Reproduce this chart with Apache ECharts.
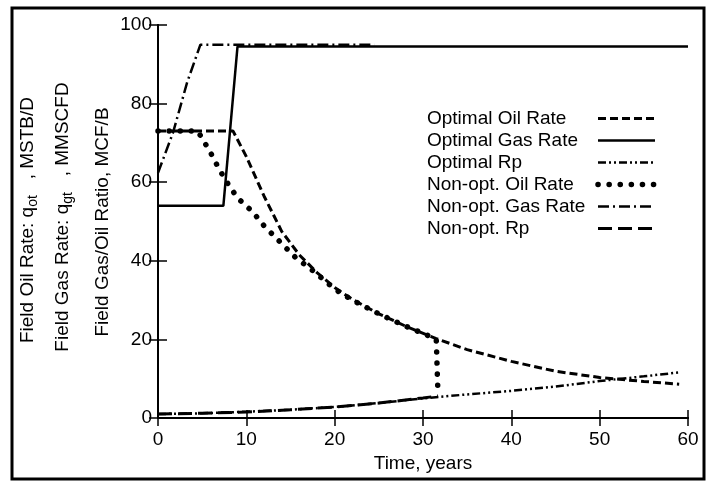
<!DOCTYPE html>
<html>
<head>
<meta charset="utf-8">
<script src="https://cdn.jsdelivr.net/npm/echarts@6/dist/echarts.min.js"></script>
<style>
  html, body { margin: 0; padding: 0; background: #fff; }
  #chart { width: 715px; height: 483px; }
</style>
</head>
<body>
<div id="chart"></div>
<script>
var FONT = '"Liberation Sans", Arial, sans-serif';

// Optimal oil rate (MSTB/D)
var optOilT = [0, 8.5, 10, 12, 14, 16, 18, 20, 22, 25, 28, 31.5, 35, 40, 45, 50, 55, 59];
var optOilV = [73, 73, 66.5, 56.5, 47.5, 41.5, 37, 33.2, 30.2, 26.5, 23.4, 20.2, 17.4, 14.4, 11.9, 10.3, 9.3, 8.6];

// Optimal gas rate (MMSCFD)
var optGasT = [0, 7.4, 9.0, 60];
var optGasV = [54, 54, 94.5, 94.5];

// Optimal Rp (MCF/B)
var optRpT = [0, 5, 10, 15, 20, 25, 30, 32, 35, 40, 45, 50, 55, 59];
var optRpV = [1.0, 1.2, 1.6, 2.1, 2.8, 3.8, 5.0, 5.4, 6.0, 6.9, 8.0, 9.4, 10.6, 11.6];

// Non-optimal oil rate
var nonOilT = [0, 4.5, 5.3, 6, 7, 8, 9, 10.7, 12, 13.6, 15.5, 17.8, 20, 22, 25, 28, 31.5, 31.7];
var nonOilV = [73, 73, 70, 67.3, 63, 59.3, 56, 52.5, 48.9, 45.3, 41, 37, 32.8, 30.0, 26.5, 23.4, 20.1, 5.6];

// Non-optimal gas rate
var nonGasT = [0, 1.7, 3.3, 4.8, 24.5];
var nonGasV = [62.4, 72.6, 85.4, 95, 95];

// Non-optimal Rp
var nonRpT = [0, 5, 10, 15, 20, 25, 30, 31.7];
var nonRpV = [1.0, 1.2, 1.5, 2.1, 2.8, 3.8, 5.1, 5.6];

var legendNames = ['Optimal Oil Rate', 'Optimal Gas Rate', 'Optimal Rp',
  'Non-opt. Oil Rate', 'Non-opt. Gas Rate', 'Non-opt. Rp'];

// line looks, one per series (same order as legendNames)
var looks = [
  { type: [8, 4], width: 3, cap: 'butt' },
  { type: 'solid', width: 2.5, cap: 'butt' },
  { type: [8, 3, 2, 3, 2, 3], width: 2.5, cap: 'butt' },
  { type: [0.1, 11], width: 5.5, cap: 'round' },
  { type: [11, 4, 2, 4], width: 2.5, cap: 'butt' },
  { type: [14, 6], width: 3, cap: 'butt' }
];

function pairs(t, v) {
  var out = [];
  for (var i = 0; i < t.length; i++) { out.push([t[i], v[i]]); }
  return out;
}

function lineStyleOf(i) {
  return { color: '#000', width: looks[i].width, type: looks[i].type, cap: looks[i].cap };
}

function mkSeries(i, t, v) {
  return {
    name: legendNames[i],
    type: 'line',
    data: pairs(t, v),
    symbol: 'none',
    showSymbol: false,
    silent: true,
    color: '#000',
    itemStyle: { color: '#000' },
    lineStyle: lineStyleOf(i)
  };
}

var chart = echarts.init(document.getElementById('chart'));

var labelRich = {
  a: { fontFamily: FONT, fontSize: 19, lineHeight: 24, fill: '#000', verticalAlign: 'middle' },
  s: { fontFamily: FONT, fontSize: 14, lineHeight: 12, fill: '#000', verticalAlign: 'bottom' }
};

function yLabel(x, y, text) {
  return {
    type: 'text',
    x: x, y: y,
    rotation: Math.PI / 2,
    style: {
      text: text,
      rich: labelRich,
      align: 'center',
      verticalAlign: 'middle',
      fill: '#000'
    }
  };
}

chart.setOption({
  animation: false,
  backgroundColor: '#fff',
  textStyle: { fontFamily: FONT, color: '#000' },
  grid: { left: 158, right: 27, top: 25, bottom: 65 },
  legend: {
    orient: 'vertical',
    left: 422,
    top: 104,
    align: 'right',
    itemWidth: 57,
    itemHeight: 16,
    itemGap: 3,
    selectedMode: false,
    itemStyle: { opacity: 0 },
    formatter: function (name) { return '{t|' + name + '}'; },
    textStyle: {
      fontFamily: FONT, fontSize: 19, color: '#000',
      rich: { t: { fontFamily: FONT, fontSize: 19, lineHeight: 19, color: '#000', width: 166, align: 'left' } }
    },
    data: legendNames.map(function (n, i) {
      return { name: n, lineStyle: lineStyleOf(i) };
    })
  },
  xAxis: [{
    type: 'value', min: 0, max: 60, interval: 10,
    name: 'Time, years', nameLocation: 'middle', nameGap: 24,
    nameTextStyle: { fontFamily: FONT, fontSize: 19, color: '#000' },
    axisLine: { lineStyle: { color: '#000', width: 2 } },
    axisTick: { inside: true, length: 8, lineStyle: { color: '#000', width: 1.5 } },
    axisLabel: { fontFamily: FONT, fontSize: 19, color: '#000', margin: 12 },
    splitLine: { show: false }
  }, {
    type: 'value', min: 0, max: 60, interval: 10, position: 'top',
    axisLine: { lineStyle: { color: '#000', width: 2 } },
    axisTick: { inside: true, length: 8, lineStyle: { color: '#000', width: 1.5 } },
    axisLabel: { show: false },
    splitLine: { show: false }
  }],
  yAxis: [{
    type: 'value', min: 0, max: 100, interval: 20,
    axisLine: { show: true, lineStyle: { color: '#000', width: 2 } },
    axisTick: { show: true, inside: true, length: 9, lineStyle: { color: '#000', width: 1.5 } },
    axisLabel: { fontFamily: FONT, fontSize: 19, color: '#000', margin: 6 },
    splitLine: { show: false }
  }, {
    type: 'value', min: 0, max: 100, interval: 20, position: 'right',
    axisLine: { show: true, lineStyle: { color: '#000', width: 2 } },
    axisTick: { show: true, inside: true, length: 9, lineStyle: { color: '#000', width: 1.5 } },
    axisLabel: { show: false },
    splitLine: { show: false }
  }],
  series: [
    mkSeries(0, optOilT, optOilV),
    mkSeries(1, optGasT, optGasV),
    mkSeries(2, optRpT, optRpV),
    mkSeries(3, nonOilT, nonOilV),
    mkSeries(4, nonGasT, nonGasV),
    mkSeries(5, nonRpT, nonRpV)
  ],
  graphic: [
    {
      type: 'rect',
      shape: { x: 12, y: 8, width: 692, height: 471 },
      style: { fill: 'none', stroke: '#000', lineWidth: 3 },
      silent: true
    },
    yLabel(28, 220, '{a|Field Oil Rate: q}{s|ot}{a|   , MSTB/D}'),
    yLabel(63, 217, '{a|Field Gas Rate: q}{s|gt}{a|   , MMSCFD}'),
    yLabel(103, 222, '{a|Field Gas/Oil Ratio, MCF/B}')
  ]
});
</script>
</body>
</html>
